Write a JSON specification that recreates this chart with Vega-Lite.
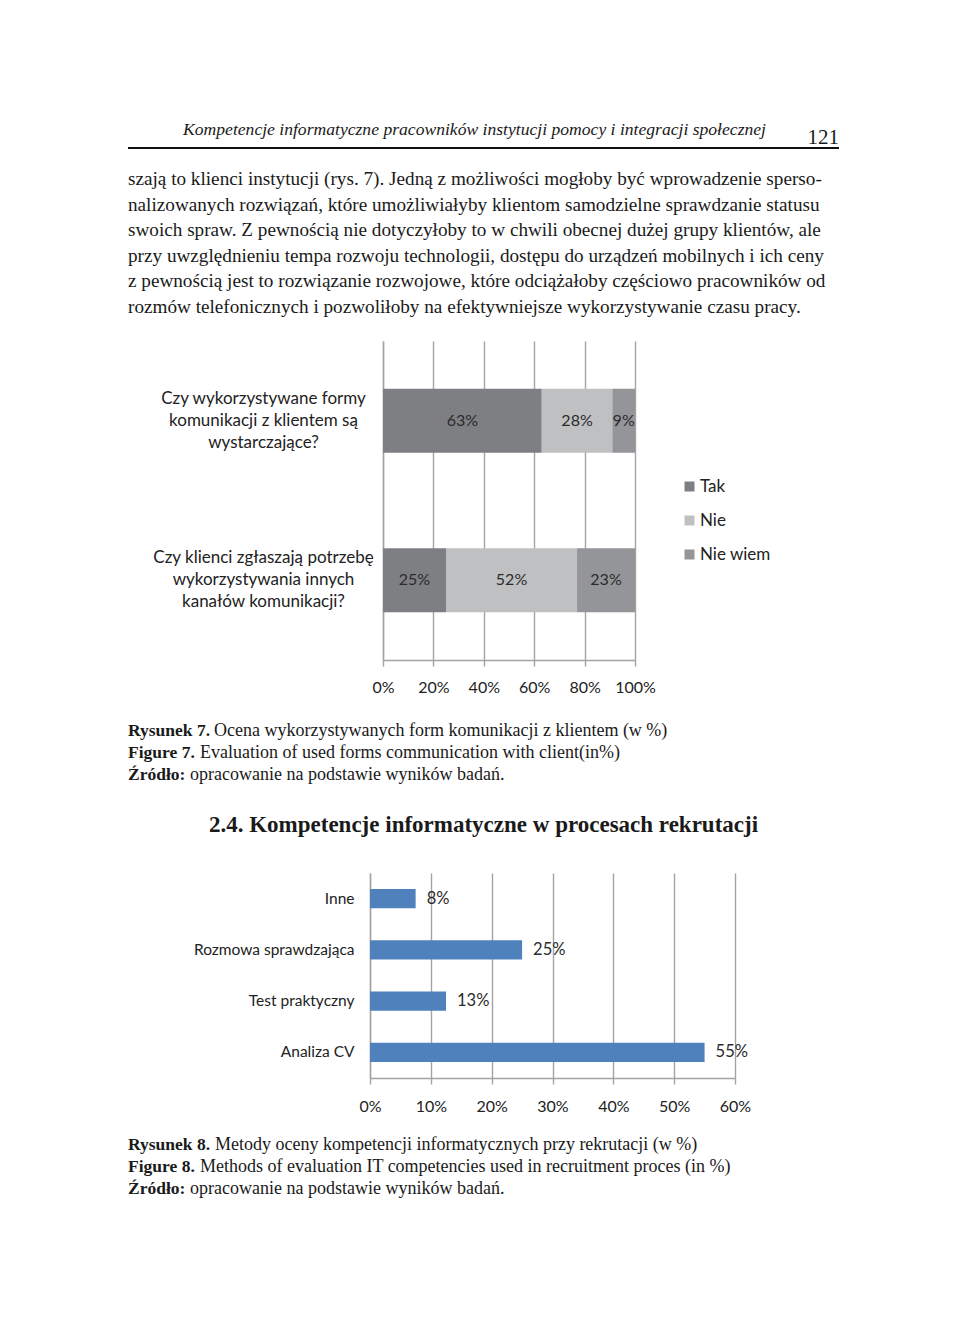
{
  "$schema": "https://vega.github.io/schema/vega-lite/v6.json",
  "background": "white",
  "padding": {"left": 127, "top": 110, "right": 10, "bottom": 10},
  "bounds": "flush",
  "spacing": 0,
  "config": {
    "view": {"stroke": null},
    "text": {"color": "#1a1a1a"}
  },
  "resolve": {
    "scale": {"x": "independent", "y": "independent", "color": "independent"},
    "axis": {"x": "independent", "y": "independent"},
    "legend": {"color": "independent"}
  },
  "vconcat": [
    {
      "width": 711,
      "height": 38,
      "data": {"values": [{"header": "Kompetencje informatyczne pracowników instytucji pomocy i integracji społecznej", "page": "121"}]},
      "layer": [
        {
          "mark": {"type": "text", "align": "right", "baseline": "alphabetic", "font": "Liberation Serif", "fontStyle": "italic", "fontSize": 17.6, "color": "#1a1a1a"},
          "encoding": {
            "text": {"field": "header"},
            "x": {"datum": 0.8973, "type": "quantitative", "scale": {"domain": [0, 1]}, "axis": null},
            "y": {"datum": 0.66, "type": "quantitative", "scale": {"domain": [0, 1], "range": [0, 38]}, "axis": null}
          }
        },
        {
          "mark": {"type": "text", "align": "right", "baseline": "alphabetic", "font": "Liberation Serif", "fontSize": 21, "color": "#1a1a1a"},
          "encoding": {
            "text": {"field": "page"},
            "x": {"datum": 1, "type": "quantitative"},
            "y": {"datum": 0.895, "type": "quantitative"}
          }
        },
        {
          "mark": {"type": "rule", "strokeWidth": 2, "color": "#111"},
          "encoding": {
            "x": {"datum": 0, "type": "quantitative"},
            "x2": {"datum": 1},
            "y": {"datum": 1, "type": "quantitative"}
          }
        }
      ]
    },
    {
      "width": 711,
      "height": 193,
      "data": {"values": [
        {"line": 1, "text": "szają to klienci instytucji (rys. 7). Jedną z możliwości mogłoby być wprowadzenie sperso-"},
        {"line": 2, "text": "nalizowanych rozwiązań, które umożliwiałyby klientom samodzielne sprawdzanie statusu"},
        {"line": 3, "text": "swoich spraw. Z pewnością nie dotyczyłoby to w chwili obecnej dużej grupy klientów, ale"},
        {"line": 4, "text": "przy uwzględnieniu tempa rozwoju technologii, dostępu do urządzeń mobilnych i ich ceny"},
        {"line": 5, "text": "z pewnością jest to rozwiązanie rozwojowe, które odciążałoby częściowo pracowników od"},
        {"line": 6, "text": "rozmów telefonicznych i pozwoliłoby na efektywniejsze wykorzystywanie czasu pracy."}
      ]},
      "mark": {"type": "text", "align": "left", "baseline": "alphabetic", "font": "Liberation Serif", "fontSize": 19.2, "color": "#1a1a1a"},
      "encoding": {
        "text": {"field": "text"},
        "x": {"datum": 0, "type": "quantitative", "scale": {"domain": [0, 1]}, "axis": null},
        "y": {"field": "line", "type": "quantitative", "scale": {"domain": [1, 6], "range": [37, 165]}, "axis": null}
      }
    },
    {
      "width": 711,
      "height": 319,
      "data": {"values": [
        {"q": "Czy wykorzystywane formy\nkomunikacji z klientem są\nwystarczające?", "cat": "Tak", "v": 63},
        {"q": "Czy wykorzystywane formy\nkomunikacji z klientem są\nwystarczające?", "cat": "Nie", "v": 28},
        {"q": "Czy wykorzystywane formy\nkomunikacji z klientem są\nwystarczające?", "cat": "Nie wiem", "v": 9},
        {"q": "Czy klienci zgłaszają potrzebę\nwykorzystywania innych\nkanałów komunikacji?", "cat": "Tak", "v": 25},
        {"q": "Czy klienci zgłaszają potrzebę\nwykorzystywania innych\nkanałów komunikacji?", "cat": "Nie", "v": 52},
        {"q": "Czy klienci zgłaszają potrzebę\nwykorzystywania innych\nkanałów komunikacji?", "cat": "Nie wiem", "v": 23}
      ]},
      "transform": [
        {"calculate": "indexof(['Tak', 'Nie', 'Nie wiem'], datum.cat)", "as": "ord"},
        {"stack": "v", "groupby": ["q"], "sort": [{"field": "ord", "order": "ascending"}], "as": ["v0", "v1"]},
        {"calculate": "(datum.v0 + datum.v1) / 2", "as": "mid"},
        {"calculate": "datum.v + '%'", "as": "label"}
      ],
      "layer": [
        {
          "mark": {"type": "bar"},
          "encoding": {
            "x": {
              "field": "v0", "type": "quantitative", "title": null,
              "scale": {"domain": [0, 100], "range": [255, 507]},
              "axis": {
                "values": [0, 20, 40, 60, 80, 100],
                "labelExpr": "datum.value + '%'",
                "labelOverlap": false, "labelFlush": false,
                "grid": true, "gridColor": "#a3a3a3", "gridWidth": 1.4,
                "domainColor": "#a3a3a3", "domainWidth": 1.4,
                "tickColor": "#a3a3a3", "tickWidth": 1.4, "tickSize": 6,
                "labelFont": "Lato", "labelFontSize": 16, "labelColor": "#222",
                "labelPadding": 13, "title": null
              }
            },
            "x2": {"field": "v1"},
            "y": {
              "field": "q", "type": "nominal", "sort": null, "title": null,
              "scale": {"paddingInner": 0.6, "paddingOuter": 0.3},
              "axis": {
                "orient": "left", "offset": -255, "ticks": false,
                "domainColor": "#a3a3a3", "domainWidth": 1.4,
                "labelAlign": "center", "labelBaseline": "middle", "labelPadding": 120,
                "labelOffset": -22,
                "labelFont": "Lato", "labelFontSize": 17, "labelLineHeight": 22,
                "labelColor": "#222", "labelLimit": 0,
                "labelExpr": "split(datum.label, '\\n')",
                "title": null, "grid": false
              }
            },
            "color": {
              "field": "cat", "type": "nominal",
              "scale": {"domain": ["Tak", "Nie", "Nie wiem"], "range": ["#7e7f82", "#bfc0c2", "#939598"]},
              "legend": {
                "orient": "none", "legendX": 553, "legendY": 137, "title": null,
                "symbolType": "square", "symbolSize": 100, "symbolStrokeWidth": 0,
                "labelFont": "Lato", "labelFontSize": 17, "labelColor": "#222",
                "rowPadding": 16, "labelOffset": 2, "padding": 0
              }
            }
          }
        },
        {
          "mark": {"type": "text", "align": "center", "baseline": "middle", "font": "Lato", "fontSize": 16, "color": "#2b2b2b"},
          "encoding": {
            "x": {"field": "mid", "type": "quantitative", "title": null},
            "y": {"field": "q", "type": "nominal", "sort": null, "title": null},
            "text": {"field": "label"}
          }
        }
      ]
    },
    {
      "width": 711,
      "height": 213,
      "data": {"values": [
        {"line": 1, "b": "Rysunek 7.", "t": "Ocena wykorzystywanych form komunikacji z klientem (w %)"},
        {"line": 2, "b": "Figure 7.", "t": "Evaluation of used forms communication with client(in%)"},
        {"line": 3, "b": "Źródło:", "t": "opracowanie na podstawie wyników badań."}
      ]},
      "encoding": {
        "x": {"datum": 0, "type": "quantitative", "scale": {"domain": [0, 1]}, "axis": null},
        "y": {"field": "line", "type": "quantitative", "scale": {"domain": [1, 3], "range": [76, 120]}, "axis": null}
      },
      "layer": [
        {
          "mark": {"type": "text", "align": "left", "baseline": "alphabetic", "font": "Liberation Serif", "fontWeight": "bold", "fontSize": 17.5, "color": "#1a1a1a"},
          "encoding": {"text": {"field": "b"}}
        },
        {
          "transform": [{"filter": "datum.line == 1"}],
          "mark": {"type": "text", "align": "left", "baseline": "alphabetic", "font": "Liberation Serif", "fontSize": 18, "color": "#1a1a1a", "dx": 86},
          "encoding": {"text": {"field": "t"}}
        },
        {
          "transform": [{"filter": "datum.line == 2"}],
          "mark": {"type": "text", "align": "left", "baseline": "alphabetic", "font": "Liberation Serif", "fontSize": 18, "color": "#1a1a1a", "dx": 72},
          "encoding": {"text": {"field": "t"}}
        },
        {
          "transform": [{"filter": "datum.line == 3"}],
          "mark": {"type": "text", "align": "left", "baseline": "alphabetic", "font": "Liberation Serif", "fontSize": 18, "color": "#1a1a1a", "dx": 62},
          "encoding": {"text": {"field": "t"}}
        }
      ]
    },
    {
      "width": 711,
      "height": 205,
      "title": {
        "text": "2.4. Kompetencje informatyczne w procesach rekrutacji",
        "anchor": "middle", "orient": "top", "baseline": "alphabetic", "offset": 18,
        "font": "Liberation Serif", "fontWeight": "bold", "fontSize": 23, "color": "#1a1a1a"
      },
      "data": {"values": [
        {"m": "Inne", "v": 7.5},
        {"m": "Rozmowa sprawdzająca", "v": 25},
        {"m": "Test praktyczny", "v": 12.5},
        {"m": "Analiza CV", "v": 55}
      ]},
      "transform": [{"calculate": "round(datum.v) + '%'", "as": "label"}],
      "layer": [
        {
          "mark": {"type": "bar", "color": "#4f81bd"},
          "encoding": {
            "x": {
              "field": "v", "type": "quantitative", "title": null,
              "scale": {"domain": [0, 60], "range": [242, 607]},
              "axis": {
                "values": [0, 10, 20, 30, 40, 50, 60],
                "labelExpr": "datum.value + '%'",
                "labelOverlap": false, "labelFlush": false,
                "grid": true, "gridColor": "#a3a3a3", "gridWidth": 1.4,
                "domainColor": "#a3a3a3", "domainWidth": 1.4,
                "tickColor": "#a3a3a3", "tickWidth": 1.4, "tickSize": 6,
                "labelFont": "Lato", "labelFontSize": 16, "labelColor": "#222",
                "labelPadding": 14, "title": null
              }
            },
            "y": {
              "field": "m", "type": "nominal", "sort": null, "title": null,
              "scale": {"paddingInner": 0.62, "paddingOuter": 0.31},
              "axis": {
                "orient": "left", "offset": -242, "ticks": false,
                "domainColor": "#a3a3a3", "domainWidth": 1.4,
                "labelAlign": "right", "labelBaseline": "middle", "labelPadding": 16,
                "labelFont": "Lato", "labelFontSize": 15.5, "labelColor": "#222", "labelLimit": 0,
                "title": null, "grid": false
              }
            }
          }
        },
        {
          "mark": {"type": "text", "align": "left", "baseline": "middle", "dx": 11, "font": "Lato", "fontSize": 16.5, "color": "#2b2b2b"},
          "encoding": {
            "x": {"field": "v", "type": "quantitative", "title": null},
            "y": {"field": "m", "type": "nominal", "sort": null, "title": null},
            "text": {"field": "label"}
          }
        }
      ]
    },
    {
      "width": 711,
      "height": 130,
      "data": {"values": [
        {"line": 1, "b": "Rysunek 8.", "t": "Metody oceny kompetencji informatycznych przy rekrutacji (w %)"},
        {"line": 2, "b": "Figure 8.", "t": "Methods of evaluation IT competencies used in recruitment proces (in %)"},
        {"line": 3, "b": "Źródło:", "t": "opracowanie na podstawie wyników badań."}
      ]},
      "encoding": {
        "x": {"datum": 0, "type": "quantitative", "scale": {"domain": [0, 1]}, "axis": null},
        "y": {"field": "line", "type": "quantitative", "scale": {"domain": [1, 3], "range": [72, 116]}, "axis": null}
      },
      "layer": [
        {
          "mark": {"type": "text", "align": "left", "baseline": "alphabetic", "font": "Liberation Serif", "fontWeight": "bold", "fontSize": 17.5, "color": "#1a1a1a"},
          "encoding": {"text": {"field": "b"}}
        },
        {
          "transform": [{"filter": "datum.line == 1"}],
          "mark": {"type": "text", "align": "left", "baseline": "alphabetic", "font": "Liberation Serif", "fontSize": 18, "color": "#1a1a1a", "dx": 87},
          "encoding": {"text": {"field": "t"}}
        },
        {
          "transform": [{"filter": "datum.line == 2"}],
          "mark": {"type": "text", "align": "left", "baseline": "alphabetic", "font": "Liberation Serif", "fontSize": 18, "color": "#1a1a1a", "dx": 72},
          "encoding": {"text": {"field": "t"}}
        },
        {
          "transform": [{"filter": "datum.line == 3"}],
          "mark": {"type": "text", "align": "left", "baseline": "alphabetic", "font": "Liberation Serif", "fontSize": 18, "color": "#1a1a1a", "dx": 62},
          "encoding": {"text": {"field": "t"}}
        }
      ]
    }
  ]
}
